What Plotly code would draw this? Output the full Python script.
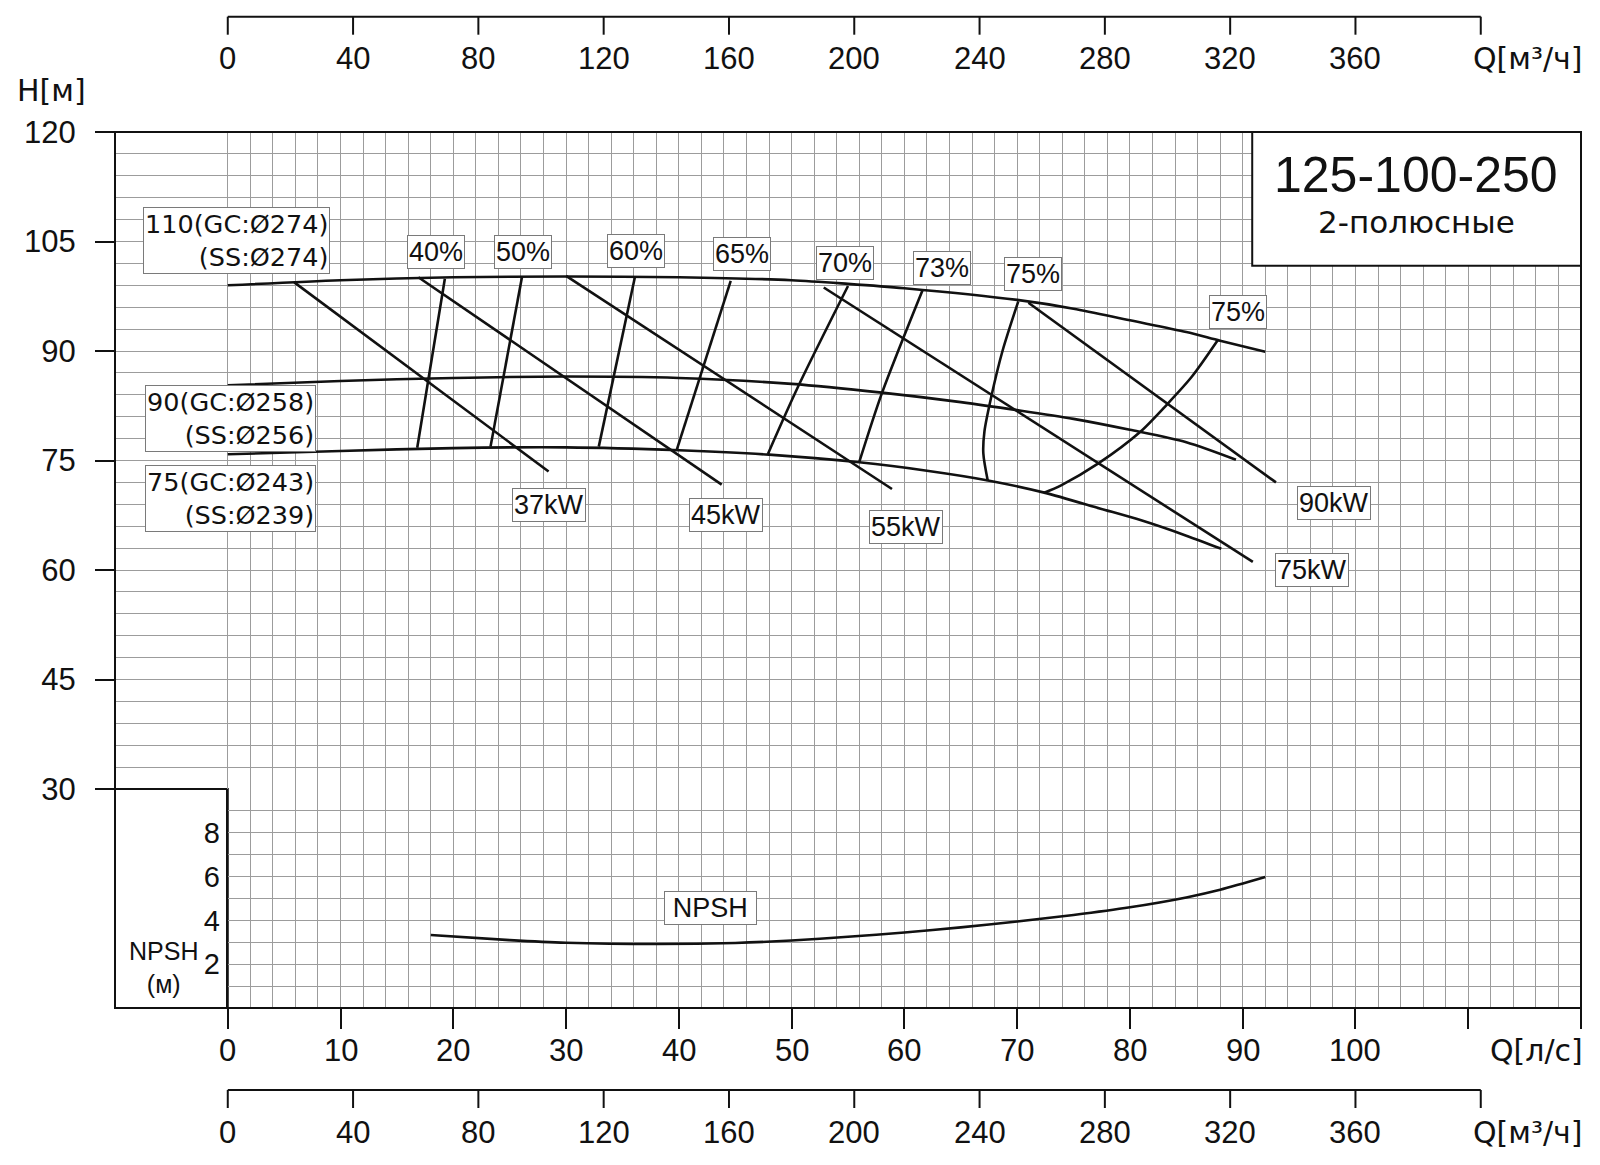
import plotly.graph_objects as go

# ---------------- data (Q in l/s, H in m, NPSH in m) ----------------
q_d274 = [0, 10, 20, 30, 40, 50, 55, 60, 70, 75, 80, 85, 88, 92]
h_d274 = [99.0, 99.7, 100.1, 100.2, 100.1, 99.7, 99.2, 98.6, 97.0, 95.8, 94.2, 92.6, 91.4, 89.9]

q_d258 = [0, 10, 20, 30, 40, 50, 58, 65, 70, 75, 80, 85, 89.4]
h_d258 = [85.3, 85.9, 86.3, 86.5, 86.3, 85.5, 84.3, 83.0, 81.9, 80.7, 79.2, 77.5, 75.1]

q_d243 = [0, 10, 20, 30, 40, 48, 56, 62, 67.3, 72.4, 77.4, 81, 85, 88.1]
h_d243 = [75.85, 76.3, 76.7, 76.8, 76.4, 75.8, 74.75, 73.6, 72.3, 70.6, 68.4, 66.8, 64.7, 62.9]

q_p37 = [5.9, 28.45]
h_p37 = [99.4, 73.5]
q_p45 = [16.9, 43.8]
h_p45 = [100.1, 71.7]
q_p55 = [30.0, 58.9]
h_p55 = [100.3, 71.1]
q_p75 = [52.85, 90.9]
h_p75 = [98.7, 61.1]
q_p90 = [71.0, 92.95]
h_p90 = [96.6, 72.0]

q_e40 = [19.25, 17.8, 16.8]
h_e40 = [99.9, 86.2, 76.75]
q_e50 = [26.1, 23.3]
h_e50 = [100.2, 76.9]
q_e60 = [36.1, 32.9]
h_e60 = [100.1, 76.9]
q_e65 = [44.6, 39.8]
h_e65 = [99.6, 76.4]
q_e70 = [55.0, 50.6, 47.9]
h_e70 = [98.9, 85.2, 75.9]
q_e73 = [61.6, 58.0, 56.0]
h_e73 = [98.3, 84.2, 74.8]
q_e75a = [70.1, 68.7, 67.7, 67.1, 67.0, 67.4]
h_e75a = [96.8, 90.0, 83.7, 79.0, 76.0, 72.2]
q_e75b = [72.4, 73.9, 77.2, 80.9, 83.3, 85.5, 87.8]
h_e75b = [70.6, 71.6, 74.6, 78.9, 82.7, 86.5, 91.5]

q_npsh = [18, 25, 30, 38, 45, 50, 55, 60, 65, 70, 75, 80, 85, 88, 92]
n_npsh = [3.33, 3.1, 2.98, 2.92, 2.97, 3.08, 3.25, 3.45, 3.68, 3.95, 4.25, 4.6, 5.05, 5.4, 5.98]

head_ticks = [30, 45, 60, 75, 90, 105, 120]
npsh_ticks = [2, 4, 6, 8]
qls_ticks = list(range(0, 121, 10))
qls_text = ["0", "10", "20", "30", "40", "50", "60", "70", "80", "90", "100", "", ""]
qm3_ticks = list(range(0, 401, 40))
qm3_text = ["0", "40", "80", "120", "160", "200", "240", "280", "320", "360", ""]

diam_labels = ["110(GC:Ø274)<br>(SS:Ø274)", "90(GC:Ø258)<br>(SS:Ø256)", "75(GC:Ø243)<br>(SS:Ø239)"]
eff_labels = ["40%", "50%", "60%", "65%", "70%", "73%", "75%", "75%"]
pow_labels = ["37kW", "45kW", "55kW", "90kW", "75kW"]

# ---------------- layout geometry (pixels) ----------------
W, H = 1600, 1165
L, R, T, B = 115.4, 1580.6, 132.0, 1008.0
Y30 = 789.0
QMIN, QMAX = -10.0, 120.0
HMIN, HMAX = 30.0, 120.0
M3H_PER_LS = 3.6


def qx(q):
    return L + (q - QMIN) / (QMAX - QMIN) * (R - L)


def ppx(x):
    return (x - L) / (R - L)


def ppy(y):
    return (B - y) / (B - T)


X0 = qx(0)
SPLIT = ppy(Y30)

GRID = "#9c9c9c"
FONT = "Liberation Sans, Arial, sans-serif"
WIDE = "DejaVu Sans, sans-serif"
BLACK = "#111111"
NUM = 31

fig = go.Figure()


def add_line(xs, ys, xa="x", ya="y", shape="spline"):
    fig.add_trace(go.Scatter(x=xs, y=ys, mode="lines", xaxis=xa, yaxis=ya,
                             line=dict(color=BLACK, width=2.6, shape=shape, smoothing=0.8),
                             hoverinfo="skip", showlegend=False))


for qs, hs in [(q_d274, h_d274), (q_d258, h_d258), (q_d243, h_d243)]:
    add_line(qs, hs)
for qs, hs in [(q_p37, h_p37), (q_p45, h_p45), (q_p55, h_p55), (q_p75, h_p75), (q_p90, h_p90)]:
    add_line(qs, hs, shape="linear")
for qs, hs in [(q_e40, h_e40), (q_e50, h_e50), (q_e60, h_e60), (q_e65, h_e65), (q_e70, h_e70),
               (q_e73, h_e73), (q_e75a, h_e75a), (q_e75b, h_e75b)]:
    add_line(qs, hs)
add_line(q_npsh, n_npsh, xa="x2", ya="y2")

fig.update_layout(
    width=W, height=H, autosize=False,
    margin=dict(l=L, r=W - R, t=T, b=H - B, pad=0, autoexpand=False),
    paper_bgcolor="white", plot_bgcolor="rgba(0,0,0,0)",
    font=dict(family=FONT, color=BLACK),
    xaxis=dict(domain=[0, 1], range=[QMIN, QMAX], anchor="y", automargin=False,
               tickmode="array", tickvals=list(range(0, 121, 2)), showticklabels=False,
               ticks="", showgrid=True, gridcolor=GRID, gridwidth=1.2, zeroline=False,
               showline=False, fixedrange=True),
    yaxis=dict(domain=[SPLIT, 1], range=[HMIN, HMAX], anchor="x", automargin=False,
               tickmode="array", tickvals=head_ticks, ticks="outside", ticklen=19,
               tickwidth=2, tickcolor=BLACK, tickfont=dict(family=FONT, size=NUM, color=BLACK),
               ticklabelstandoff=13,
               showgrid=True, gridcolor=GRID, gridwidth=1.2, zeroline=False, showline=False,
               minor=dict(tickmode="array", tickvals=list(range(30, 121, 3)), ticks="",
                          showgrid=True, gridcolor=GRID, gridwidth=1.2),
               fixedrange=True),
    xaxis2=dict(domain=[ppx(X0), 1], range=[0, 120], anchor="y2", automargin=False,
                tickmode="array", tickvals=qls_ticks, showticklabels=False,
                ticks="outside", ticklen=20, tickwidth=2, tickcolor=BLACK,
                showgrid=True, gridcolor=GRID, gridwidth=1.2, zeroline=False, showline=False,
                minor=dict(tickmode="array", tickvals=list(range(0, 121, 2)), ticks="",
                           showgrid=True, gridcolor=GRID, gridwidth=1.2),
                fixedrange=True),
    yaxis2=dict(domain=[0, SPLIT], range=[0, 10], anchor="x2", automargin=False,
                tickmode="array", tickvals=npsh_ticks, ticks="",
                tickfont=dict(family=FONT, size=29, color=BLACK), ticklabelstandoff=0,
                showgrid=True, gridcolor=GRID, gridwidth=1.2, zeroline=False,
                showline=True, linecolor=BLACK, linewidth=2,
                minor=dict(tickmode="array", tickvals=list(range(0, 11, 1)), ticks="",
                           showgrid=True, gridcolor=GRID, gridwidth=1.2),
                fixedrange=True),
)

shapes = []
# outer frame
shapes.append(dict(type="rect", xref="paper", yref="paper", x0=0, x1=1, y0=0, y1=1,
                   line=dict(color=BLACK, width=2), layer="above"))
# NPSH left box
shapes.append(dict(type="rect", xref="paper", yref="paper", x0=0, x1=ppx(X0), y0=0, y1=SPLIT,
                   line=dict(color=BLACK, width=2), fillcolor="white", layer="below"))
# title box
shapes.append(dict(type="rect", xref="paper", yref="paper", x0=ppx(1252), x1=1, y0=ppy(265.7), y1=1,
                   line=dict(color=BLACK, width=2), fillcolor="white", layer="above"))

ann = []

# l/s tick labels under the main frame
for q, txt in zip(qls_ticks, qls_text):
    if txt:
        ann.append(dict(text=txt, x=q, y=ppy(1050), xref="x2", yref="paper", showarrow=False,
                        xanchor="center", yanchor="middle",
                        font=dict(family=FONT, size=NUM, color=BLACK)))

# secondary flow scales in m3/h (top and bottom), drawn on the l/s axis scale
for ax_y, lab_y in [(16.7, 58.0), (1090.0, 1132.0)]:
    shapes.append(dict(type="line", xref="x", yref="paper",
                       x0=qm3_ticks[0] / M3H_PER_LS, x1=qm3_ticks[-1] / M3H_PER_LS,
                       y0=ppy(ax_y), y1=ppy(ax_y), line=dict(color=BLACK, width=2)))
    for m, txt in zip(qm3_ticks, qm3_text):
        shapes.append(dict(type="line", xref="x", yref="paper", x0=m / M3H_PER_LS, x1=m / M3H_PER_LS,
                           y0=ppy(ax_y), y1=ppy(ax_y + 18), line=dict(color=BLACK, width=2)))
        if txt:
            ann.append(dict(text=txt, x=m / M3H_PER_LS, y=ppy(lab_y), xref="x", yref="paper",
                            showarrow=False, xanchor="center", yanchor="middle",
                            font=dict(family=FONT, size=NUM, color=BLACK)))

fig.update_layout(shapes=shapes)

box = dict(bgcolor="white", bordercolor="#7a7a7a", borderwidth=1, borderpad=1,
           xanchor="center", yanchor="middle")

diam_pos = [(0.8, 105.2), (0.25, 80.7), (0.25, 69.8)]
for txt, (x, y) in zip(diam_labels, diam_pos):
    ann.append(dict(text=txt, x=x, y=y, xref="x", yref="y", showarrow=False, align="right",
                    font=dict(family=WIDE, size=25.5, color=BLACK), borderpad=1,
                    bgcolor="white", bordercolor="#7a7a7a", borderwidth=1,
                    xanchor="center", yanchor="middle"))

eff_pos = [(18.5, 103.5), (26.2, 103.5), (36.2, 103.7), (45.6, 103.35), (54.7, 102.1),
           (63.3, 101.4), (71.4, 100.6), (89.6, 95.4)]
for txt, (x, y) in zip(eff_labels, eff_pos):
    ann.append(dict(text=txt, x=x, y=y, xref="x", yref="y", showarrow=False,
                    font=dict(family=FONT, size=27, color=BLACK), **box))

pow_pos = [(28.5, 68.9), (44.2, 67.5), (60.1, 65.9), (98.1, 69.2), (96.15, 60.0)]
for txt, (x, y) in zip(pow_labels, pow_pos):
    ann.append(dict(text=txt, x=x, y=y, xref="x", yref="y", showarrow=False,
                    font=dict(family=FONT, size=27, color=BLACK), **box))

ann.append(dict(text="\u2005NPSH\u2005", x=42.85, y=4.58, xref="x2", yref="y2", showarrow=False,
                font=dict(family=FONT, size=27, color=BLACK), **box))


def pann(text, x, y, size, xanchor="center", family=FONT, align="center"):
    ann.append(dict(text=text, x=ppx(x), y=ppy(y), xref="paper", yref="paper", showarrow=False,
                    xanchor=xanchor, yanchor="middle", align=align,
                    font=dict(family=family, size=size, color=BLACK)))


pann("125-100-250", 1416, 175, 50)
pann("2-полюсные", 1416, 222, 31, family=WIDE)
pann("H[м]", 15, 90, 30, xanchor="left", family=WIDE)
pann("Q[м³/ч]", 1585, 58, 30, xanchor="right", family=WIDE)
pann("Q[л/с]", 1585, 1050, 30, xanchor="right", family=WIDE)
pann("Q[м³/ч]", 1585, 1132, 30, xanchor="right", family=WIDE)
pann("NPSH<br>(м)", 164, 967, 25)

fig.update_layout(annotations=ann)

fig.write_html("out.html")
